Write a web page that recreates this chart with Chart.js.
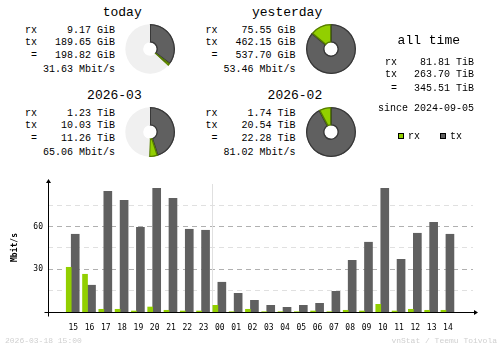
<!DOCTYPE html>
<html>
<head>
<meta charset="utf-8">
<script src="https://cdn.jsdelivr.net/npm/chart.js@4.4.1/dist/chart.umd.min.js"></script>
<style>
body{margin:0;background:#fff;}
#wrap{position:relative;width:500px;height:348px;overflow:hidden;background:#fff;font-family:"Liberation Mono",monospace;color:#000;}
.t{position:absolute;white-space:pre;}
.pie{position:absolute;}
.sq{position:absolute;width:4px;height:4px;border:1px solid #000;}
#bars{position:absolute;left:0;top:170px;}
</style>
</head>
<body>
<div id="wrap">
  <canvas id="bars" width="500" height="178"></canvas>
</div>
<script>
/* SUMMARY DATA */
const periods = ['today', 'yesterday', '2026-03', '2026-02'];
const rxAmount = [9.17, 75.55, 1.23, 1.74];
const txAmount = [189.65, 462.15, 10.03, 20.54];
const sumAmount = [198.82, 537.70, 11.26, 22.28];
const units = ['GiB', 'GiB', 'TiB', 'TiB'];
const avgRate = [31.63, 53.46, 65.06, 81.02];
// full circle = previous period total
const pieBase = [537.70, 537.70, 22.28, 22.28];

const allTimeRx = 81.81;
const allTimeTx = 263.70;
const allTimeSum = 345.51;
const allTimeUnit = 'TiB';
const allTimeSince = '2024-09-05';

/* HOURLY DATA (Mbit/s) */
const hours = ['15','16','17','18','19','20','21','22','23','00','01','02','03','04','05','06','07','08','09','10','11','12','13','14'];
const rxRate = [31.4,26.5,1.9,1.9,0.7,3.5,1.2,0.7,0.7,4.7,0.2,1.9,0.2,0.2,0.2,0.7,0.2,1.2,0.7,5.4,0.7,1.9,1.2,1.2];
const txRate = [54.6,18.8,84.8,78.5,59.5,86.9,79.9,58.1,57.4,20.9,13.1,8.2,4.7,3.3,4.7,6.1,14.5,36.3,49.0,86.9,37.0,55.3,63.0,54.6];

const rxColor = '#92cf00';
const txColor = '#606060';
const wrap = document.getElementById('wrap');

function put(txt, x, base, size, align, color){
  const d = document.createElement('div');
  d.className = 't';
  d.textContent = txt;
  d.style.fontSize = size + 'px';
  d.style.lineHeight = size + 'px';
  d.style.top = (base - 0.767*size) + 'px';
  if(align === 'right'){ d.style.right = (500 - x) + 'px'; }
  else if(align === 'center'){ d.style.left = (x - 100) + 'px'; d.style.width = '200px'; d.style.textAlign = 'center'; }
  else { d.style.left = x + 'px'; }
  if(color) d.style.color = color;
  wrap.appendChild(d);
}

/* PERIOD BLOCKS */
const blockX = [25, 205.5, 25, 205.5];
const blockY = [0, 0, 83, 83];
periods.forEach((p,k)=>{
  const bx = blockX[k], by = blockY[k];
  put(p, bx+116.7, by+16.3, 13, 'right');
  put('rx', bx, by+33.3, 10);
  put(rxAmount[k].toFixed(2)+' '+units[k], bx+90, by+33.3, 10, 'right');
  put('tx', bx, by+45.3, 10);
  put(txAmount[k].toFixed(2)+' '+units[k], bx+90, by+45.3, 10, 'right');
  put('=', bx+6, by+58.7, 10);
  put(sumAmount[k].toFixed(2)+' '+units[k], bx+90, by+58.7, 10, 'right');
  put(avgRate[k].toFixed(2)+' Mbit/s', bx+90, by+72.6, 10, 'right');

  const c = document.createElement('canvas');
  c.className = 'pie';
  c.width = 50; c.height = 50;
  c.style.left = (bx+100) + 'px';
  c.style.top = (by+24) + 'px';
  wrap.appendChild(c);
  const rest = Math.max(pieBase[k] - txAmount[k] - rxAmount[k], 0);
  new Chart(c, {
    type:'doughnut',
    data:{
      labels:['tx','rx','rest'],
      datasets:[{
        data:[txAmount[k], rxAmount[k], rest],
        backgroundColor:[txColor, rxColor, '#f0f0f0'],
        borderColor:['#383838', '#557a00', '#f0f0f0'],
        borderWidth:[1, 1, 0],
        borderAlign:'inner'
      }]
    },
    options:{
      responsive:false, animation:false, devicePixelRatio:1,
      cutout:'26%',
      layout:{padding:0},
      plugins:{legend:{display:false}, tooltip:{enabled:false}}
    }
  });
});

/* ALL TIME */
put('all time', 428.8, 44.3, 13, 'center');
put('rx', 385, 65.8, 10);
put(allTimeRx.toFixed(2)+' '+allTimeUnit, 474, 65.8, 10, 'right');
put('tx', 385, 77.5, 10);
put(allTimeTx.toFixed(2)+' '+allTimeUnit, 474, 77.5, 10, 'right');
put('=', 391, 91.8, 10);
put(allTimeSum.toFixed(2)+' '+allTimeUnit, 474, 91.8, 10, 'right');
put('since '+allTimeSince, 474, 112, 10, 'right');

/* LEGEND */
function square(x, y, color){
  const s = document.createElement('div');
  s.className = 'sq';
  s.style.left = x + 'px'; s.style.top = y + 'px';
  s.style.background = color;
  wrap.appendChild(s);
}
square(398, 133, rxColor);
put('rx', 408, 139.6, 10);
square(440, 133, txColor);
put('tx', 450, 139.6, 10);

/* FOOTER */
put('2026-03-18 15:00', 5, 343, 8, 'left', '#d0d0d0');
put('vnStat / Teemu Toivola', 497, 343, 8, 'right', '#d0d0d0');

/* HOURLY BARS */
const dayBreak = hours.indexOf('00') - 0.5;
const axesPlugin = {
  id:'axes',
  beforeDatasetsDraw(chart){
    const {ctx, chartArea:a, scales:{x}} = chart;
    const px = Math.round(x.getPixelForValue(dayBreak) + 2) + 0.5;
    ctx.save();
    ctx.strokeStyle = '#e0e0e0';
    ctx.lineWidth = 1;
    ctx.beginPath();
    ctx.moveTo(px, a.top + 1);
    ctx.lineTo(px, a.bottom);
    ctx.stroke();
    ctx.restore();
  },
  afterDatasetsDraw(chart){
    const {ctx, chartArea:a} = chart;
    const ax = Math.round(a.left) + 0.5;
    const ay = Math.round(a.bottom) + 0.5;
    ctx.save();
    ctx.strokeStyle = '#000';
    ctx.fillStyle = '#000';
    ctx.lineWidth = 1;
    ctx.beginPath();
    ctx.moveTo(ax, a.top - 1);
    ctx.lineTo(ax, ay + 4);
    ctx.moveTo(ax - 4, ay);
    ctx.lineTo(a.right + 1, ay);
    ctx.stroke();
    ctx.beginPath();
    ctx.moveTo(ax, a.top - 4);
    ctx.lineTo(ax - 2.5, a.top);
    ctx.lineTo(ax + 2.5, a.top);
    ctx.closePath();
    ctx.fill();
    ctx.beginPath();
    ctx.moveTo(a.right + 5, ay);
    ctx.lineTo(a.right + 1, ay - 2.5);
    ctx.lineTo(a.right + 1, ay + 2.5);
    ctx.closePath();
    ctx.fill();
    ctx.restore();
  }
};

const tickFont = {family:'"DejaVu Sans Mono", monospace', size:8};
new Chart(document.getElementById('bars'), {
  type:'bar',
  data:{
    datasets:[
      {label:'rx', data:rxRate.map((v,i)=>({x:i, y:v})), backgroundColor:rxColor, barThickness:5},
      {label:'tx', data:txRate.map((v,i)=>({x:i, y:v})), backgroundColor:txColor, barThickness:8}
    ]
  },
  options:{
    responsive:false, animation:false, devicePixelRatio:1,
    layout:{padding:{top:13, right:27, bottom:0, left:0}},
    plugins:{legend:{display:false}, tooltip:{enabled:false}},
    scales:{
      x:{
        type:'linear',
        min:-15/17, max:-15/17 + 25,
        grid:{display:false},
        border:{display:false},
        afterBuildTicks:s=>{ s.ticks = hours.map((h,i)=>({value:i})); },
        afterFit:s=>{ s.height = 36; },
        ticks:{autoSkip:false, maxRotation:0, labelOffset:2, padding:3, color:'#000', font:tickFont,
          callback:v=>hours[v]}
      },
      y:{
        min:0, max:90.6,
        afterBuildTicks:s=>{ s.ticks = [15,30,45,60,75].map(v=>({value:v})); },
        afterFit:s=>{ s.width = 48; },
        grid:{drawTicks:false, lineWidth:1,
          color:c=>c.tick && c.tick.value % 30 === 0 ? '#b0b0b0' : '#e0e0e0',
          borderDash:[5,4]},
        border:{display:false, dash:[5,4]},
        ticks:{padding:5, color:'#000', font:tickFont,
          callback:v=>v % 30 === 0 ? String(v) : ''},
        title:{display:true, text:'Mbit/s', color:'#000',
          font:{family:'"DejaVu Sans Mono", monospace', size:8, weight:'bold'},
          padding:{top:10, bottom:0}}
      }
    }
  },
  plugins:[axesPlugin]
});
</script>
</body>
</html>
